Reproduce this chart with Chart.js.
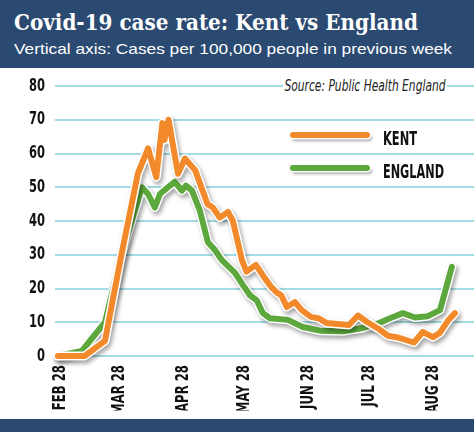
<!DOCTYPE html>
<html>
<head>
<meta charset="utf-8">
<script src="https://cdn.jsdelivr.net/npm/chart.js@4.4.0/dist/chart.umd.min.js"></script>
<style>
  html, body { margin: 0; padding: 0; }
  body { width: 474px; height: 432px; position: relative; overflow: hidden; background: #fff; }
  #head { position: absolute; left: 0; top: 0; width: 474px; height: 68px; background: #2b4a72; }
  #foot { position: absolute; left: 0; top: 419px; width: 474px; height: 13px; background: #2b4a72; }
  #chartBox { position: absolute; left: 0; top: 68px; width: 474px; height: 351px; }
  .txt { position: absolute; white-space: nowrap; line-height: 1; transform-origin: 0 0; display: inline-block; }
  #title { left: 14px; top: 9px; color: #fff; font: bold 22px "DejaVu Serif", serif; }
  #sub { left: 14px; top: 40px; color: #fff; font: 15px "Liberation Sans", Arial, sans-serif; }
  #source { left: 283px; top: 76px; color: #222; background: #fff; padding: 0 2px;
            font: italic 16px "DejaVu Sans Condensed", sans-serif; }
  .key { position: absolute; left: 290px; width: 80px; height: 6px; border-radius: 3px;
         box-shadow: 0 0 0 1.5px #fff, 2px 3px 3px rgba(0,0,0,0.35); }
  .keyTxt { left: 383px; color: #111; font: bold 19px "DejaVu Sans Condensed", sans-serif; }
</style>
</head>
<body>
<div id="head"></div>
<div id="chartBox"><canvas id="myChart" width="474" height="351"></canvas></div>
<div id="foot"></div>
<span class="txt" id="title" data-w="404">Covid-19 case rate: Kent vs England</span>
<span class="txt" id="sub" data-w="438">Vertical axis: Cases per 100,000 people in previous week</span>
<span class="txt" id="source" data-w="164">Source: Public Health England</span>
<div class="key" style="top:132px; background:#f28a2b;"></div>
<span class="txt keyTxt" style="top:127px;" data-w="34">KENT</span>
<div class="key" style="top:165px; background:#5ca83c;"></div>
<span class="txt keyTxt" style="top:160px;" data-w="61">ENGLAND</span>
<script>
// days counted from Feb 28
let tickDays = [0, 29, 60, 90, 121, 151, 182];
let tickLabels = ["FEB 28", "MAR 28", "APR 28", "MAY 28", "JUN 28", "JUL 28", "AUG 28"];

let kentDays  = [-1, 12, 22, 30, 38, 43, 47, 50, 51, 53, 56, 57.6, 61, 66, 72, 74.6, 78, 82, 84.4, 88.8, 91, 95.6, 100, 103, 106, 108, 110.7, 114.6, 118, 122.4, 126, 130, 141, 145.4, 150, 155.6, 160, 165.4, 172.7, 177, 182, 185.4, 189.3, 192.7];
let kentRates = [0, 0, 4.5, 30, 54, 61.5, 53, 69, 64, 70, 59.5, 54, 58.5, 55, 45, 44, 41, 42.7, 40, 28.4, 25, 27, 23, 20.5, 18.7, 18, 14.5, 16, 13.6, 11.6, 11.2, 9.8, 9.2, 12, 10, 8, 6, 5.4, 4, 7.1, 5.6, 6.9, 10.5, 12.7];

let englandDays  = [-1, 10.7, 22, 30, 40, 43, 46.3, 48.8, 52.7, 56, 59.5, 61.5, 64.4, 68.3, 72.2, 75.6, 79, 85.4, 89.3, 92.7, 96, 99, 102.4, 111.2, 118.5, 126.8, 138, 147.8, 154.6, 161, 167.3, 173.2, 179.5, 185.4, 191.2];
let englandRates = [0, 1.5, 10, 30, 50, 48, 44, 48, 50, 51.6, 49, 50.5, 49, 43, 33.7, 31.4, 28.4, 24.6, 21, 18, 16.5, 12.7, 11.2, 10.7, 8.6, 7.5, 7.3, 8.3, 9.5, 11.2, 12.7, 11.4, 11.8, 13.6, 26.4];

const kentColor = "#f28a2b";
const englandColor = "#5ca83c";

const toPoints = (days, vals) => days.map((d, i) => ({x: d, y: vals[i]}));

const tickFamily = '"DejaVu Sans Condensed", sans-serif';
const tickFont = { family: tickFamily, weight: 'bold', size: 18 };

// grey drop shadow under the white outline of each line
const lineShadow = {
    id: 'lineShadow',
    beforeDatasetDraw(chart, args) {
        if (!chart.data.datasets[args.index].outline) return;
        const ctx = chart.ctx;
        ctx.save();
        ctx.shadowColor = 'rgba(0,0,0,0.35)';
        ctx.shadowBlur = 4;
        ctx.shadowOffsetX = 2;
        ctx.shadowOffsetY = 3;
    },
    afterDatasetDraw(chart, args) {
        if (chart.data.datasets[args.index].outline) chart.ctx.restore();
    }
};

// squash the tick labels so they look like the narrow font of the original
const narrowTicks = {
    id: 'narrowTicks',
    afterLayout(chart) {
        const ctx = chart.ctx;
        ctx.save();
        ctx.font = 'bold 18px ' + tickFamily;
        const sy = 50 / ctx.measureText('MAR 28').width;
        const sx = 16 / ctx.measureText('80').width;
        ctx.restore();
        const x = chart.scales.x, y = chart.scales.y;
        if (!x._squashed) {
            x._squashed = true;
            const orig = x.drawLabels.bind(x);
            x.drawLabels = function (area) {
                ctx.save();
                ctx.translate(0, x.top + 9);
                ctx.scale(1, sy);
                ctx.translate(0, -x.top);
                orig(area);
                ctx.restore();
            };
        }
        if (!y._squashed) {
            y._squashed = true;
            const orig = y.drawLabels.bind(y);
            y.drawLabels = function (area) {
                ctx.save();
                ctx.translate(y.right - 10, 0);
                ctx.scale(sx, 1);
                ctx.translate(-y.right, 0);
                orig(area);
                ctx.restore();
            };
        }
    }
};

const lineSet = (label, pts, color, width, outline) => ({
    label: label, data: pts, borderColor: color, borderWidth: width, outline: outline,
    pointRadius: 0, tension: 0, clip: false,
    borderJoinStyle: 'round', borderCapStyle: 'round'
});

new Chart("myChart", {
    type: "line",
    data: {
        datasets: [
            lineSet("KENT", toPoints(kentDays, kentRates), kentColor, 6, false),
            lineSet("", toPoints(kentDays, kentRates), "#ffffff", 9, true),
            lineSet("ENGLAND", toPoints(englandDays, englandRates), englandColor, 6, false),
            lineSet("", toPoints(englandDays, englandRates), "#ffffff", 9, true)
        ]
    },
    options: {
        responsive: false,
        animation: false,
        devicePixelRatio: 1,
        layout: { padding: { top: 18, left: 0, right: 0, bottom: 0 } },
        plugins: { legend: { display: false }, tooltip: { enabled: false } },
        scales: {
            x: {
                type: 'linear', min: -2.4, max: 202,
                grid: { display: false, drawTicks: false }, border: { display: false },
                afterBuildTicks: s => { s.ticks = tickDays.map(v => ({ value: v })); },
                afterFit: s => { s.height = 63; },
                ticks: {
                    autoSkip: false, minRotation: 90, maxRotation: 90, padding: 0,
                    color: '#111', font: tickFont,
                    callback: v => tickLabels[tickDays.indexOf(v)]
                }
            },
            y: {
                min: 0, max: 80,
                afterFit: s => { s.width = 55; },
                grid: { color: '#a3dce5', lineWidth: 2, drawTicks: false },
                border: { display: false },
                ticks: { stepSize: 10, padding: 0, color: '#111', font: tickFont }
            }
        }
    },
    plugins: [lineShadow, narrowTicks]
});

// squeeze header/legend texts to the widths in the reference
document.querySelectorAll('[data-w]').forEach(el => {
    const w = el.getBoundingClientRect().width;
    el.style.transform = 'scaleX(' + (parseFloat(el.dataset.w) / w) + ')';
});
</script>
</body>
</html>
